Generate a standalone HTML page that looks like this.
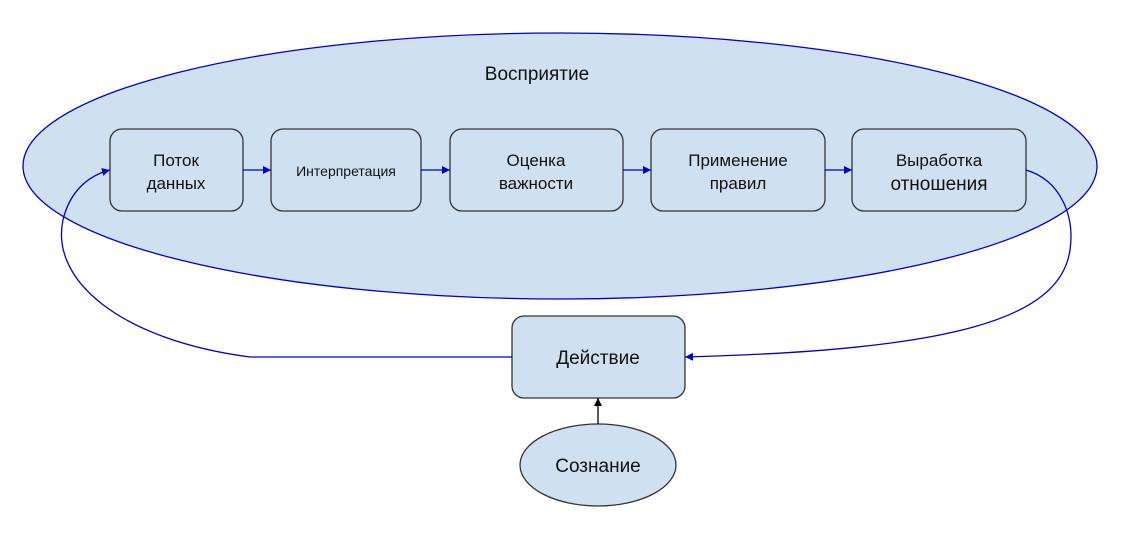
<!DOCTYPE html>
<html><head><meta charset="utf-8"><style>
body{margin:0;background:#fff;}
svg{display:block;font-family:"Liberation Sans",Arial,sans-serif;}
</style></head><body>
<svg width="1123" height="533" viewBox="0 0 1123 533">
<defs>
<marker id="ab" viewBox="0 0 10 10" refX="10" refY="5" markerWidth="8" markerHeight="8" orient="auto" markerUnits="userSpaceOnUse"><path d="M0,0 L10,5 L0,10 z" fill="#0000cc"/></marker>
<marker id="ak" viewBox="0 0 10 10" refX="10" refY="5" markerWidth="8" markerHeight="8" orient="auto" markerUnits="userSpaceOnUse"><path d="M0,0 L10,5 L0,10 z" fill="#000"/></marker>
</defs>
<ellipse cx="560" cy="166" rx="537" ry="133" fill="#cfe0f1" stroke="#0000cc" stroke-width="1.3"/>
<text x="537" y="80" font-size="19" text-anchor="middle" fill="#111">Восприятие</text>
<g fill="#cfe0f1" stroke="#333" stroke-width="1.3">
<rect x="110" y="129" width="133" height="82" rx="12"/>
<rect x="271" y="129" width="150" height="82" rx="12"/>
<rect x="450" y="129" width="173" height="82" rx="12"/>
<rect x="651" y="129" width="174" height="82" rx="12"/>
<rect x="852" y="129" width="174" height="82" rx="12"/>
<rect x="512" y="316" width="173" height="82" rx="12"/>
<ellipse cx="598" cy="465" rx="78" ry="41"/>
</g>
<g font-size="17" text-anchor="middle" fill="#111">
<text x="176" y="166">Поток</text><text x="176" y="189">данных</text>
<text x="346" y="176" font-size="14">Интерпретация</text>
<text x="536" y="166">Оценка</text><text x="536" y="189">важности</text>
<text x="738" y="166">Применение</text><text x="738" y="189">правил</text>
<text x="939" y="166">Выработка</text><text x="939" y="190" font-size="19">отношения</text>
<text x="598" y="364" font-size="19">Действие</text>
<text x="598" y="472" font-size="19">Сознание</text>
</g>
<g stroke="#0000cc" stroke-width="1.3" fill="none">
<line x1="243" y1="170" x2="271" y2="170" marker-end="url(#ab)"/>
<line x1="421" y1="170" x2="450" y2="170" marker-end="url(#ab)"/>
<line x1="623" y1="170" x2="651" y2="170" marker-end="url(#ab)"/>
<line x1="825" y1="170" x2="852" y2="170" marker-end="url(#ab)"/>
<path d="M512,357 L250,357 C120,340 50,280 63,220 C70,190 90,175 110,170" marker-end="url(#ab)"/>
<path d="M1026,170 C1060,180 1075,215 1070,250 C1060,320 950,350 685,357" marker-end="url(#ab)"/>
</g>
<line x1="598" y1="424" x2="598" y2="398" stroke="#000" stroke-width="1.3" marker-end="url(#ak)"/>
</svg>
</body></html>
